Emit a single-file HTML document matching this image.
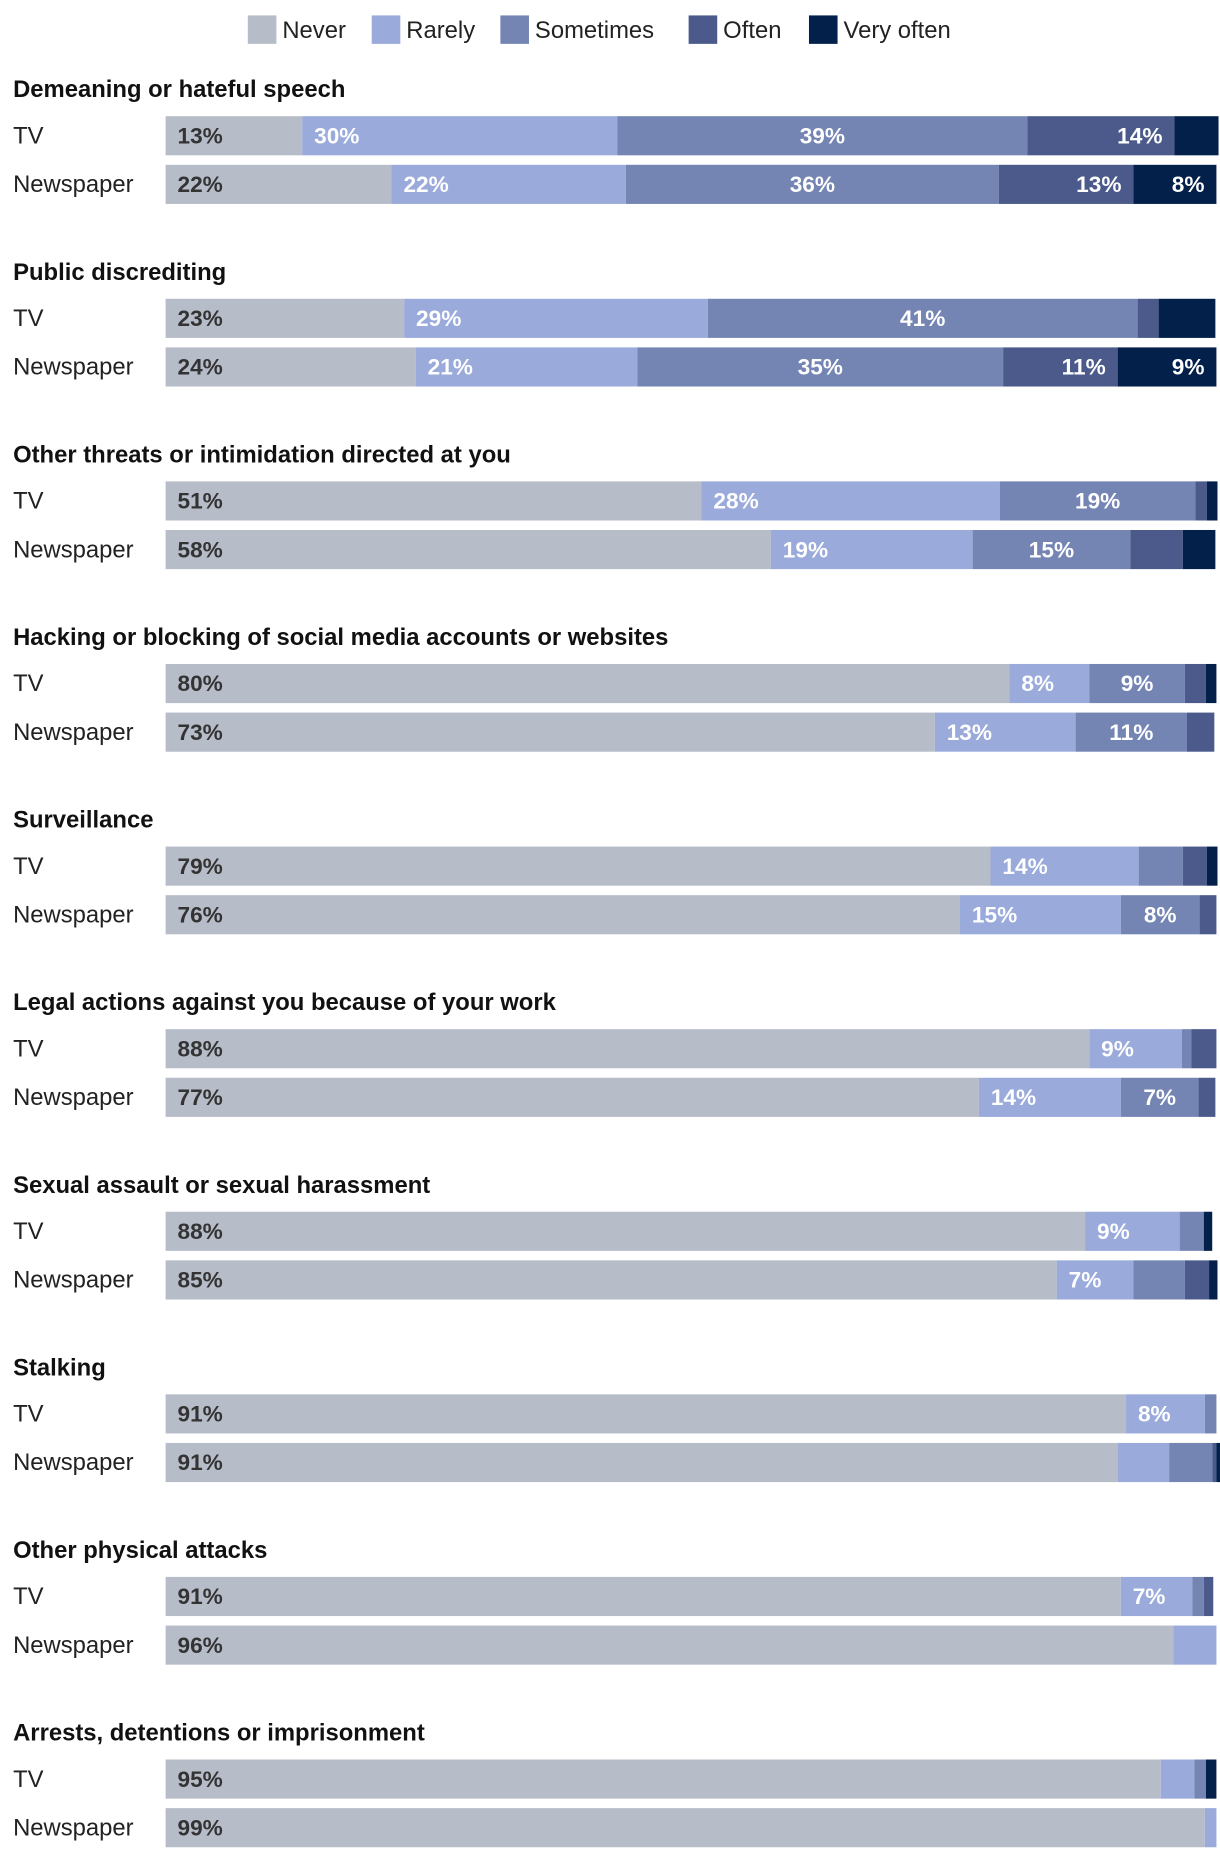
<!DOCTYPE html>
<html><head><meta charset="utf-8"><style>
html,body{margin:0;padding:0;background:#fff}
svg{display:block}
text{font-family:"Liberation Sans",sans-serif}
</style></head><body>
<svg id="chart" width="1220" height="1852" viewBox="0 0 1024 1562" preserveAspectRatio="none" xmlns="http://www.w3.org/2000/svg">
<g id="legend"></g>
<g id="bars"></g>
</svg>
<script>
const categories = ["Demeaning or hateful speech","Public discrediting","Other threats or intimidation directed at you","Hacking or blocking of social media accounts or websites","Surveillance","Legal actions against you because of your work","Sexual assault or sexual harassment","Stalking","Other physical attacks","Arrests, detentions or imprisonment"];
const outlets = ["TV","Newspaper"];
const levels = ["Never","Rarely","Sometimes","Often","Very often"];
const tvValues = [[13,30,39,14,4.2],[22.7,28.9,40.9,2.0,5.4],[51,28.4,18.6,1.1,1.0],[80.3,7.6,9.1,2.0,1.0],[78.5,14.1,4.2,2.3,1.0],[87.9,8.8,0.9,2.4,0],[87.5,9,2.3,0,0.8],[91.4,7.5,1.1,0,0],[90.9,6.8,1.1,0.9,0],[94.7,3.2,1.1,0,1.0]];
const newspaperValues = [[21.5,22.3,35.5,12.8,7.9],[23.8,21.1,34.8,10.9,9.4],[57.6,19.2,15,5,3.1],[73.2,13.4,10.6,2.6,0],[75.6,15.3,7.5,1.6,0],[77.4,13.5,7.4,1.6,0],[84.8,7.3,4.9,2.3,0.8],[90.6,4.9,4.1,0.4,0.4],[95.9,4.1,0,0,0],[98.9,1.1,0,0,0]];

const colors = ["#b6bcc8","#99aadb","#7485b4","#4b5a8a","#03204a"];
const NS = "http://www.w3.org/2000/svg";
const X0 = 139, X1 = 1021;
const x = v => X0 + (X1 - X0) * v / 100;
function mk(tag, attrs, parent){const e=document.createElementNS(NS,tag);for(const k in attrs)e.setAttribute(k,attrs[k]);parent.appendChild(e);return e;}

const lg = document.getElementById("legend");
const legX = [208,312,420,578,679];
levels.forEach((l,i)=>{
  const g = mk("g",{},lg);
  
  
  mk("rect",{x:legX[i],y:13,width:24,height:24,fill:colors[i]},g);
  const t = mk("text",{x:legX[i]+29,y:32,"font-size":20,fill:"#222"},g);
  t.textContent = l;
});

const bg = document.getElementById("bars");
categories.forEach((c,k)=>{
  const base = 154*k;
  const g = mk("g",{},bg);
  
  
  const tt = mk("text",{x:11,y:82+base,"font-size":20,"font-weight":"bold",fill:"#111"},g);
  
  
  tt.textContent = c;
  [tvValues[k],newspaperValues[k]].forEach((vals,r)=>{
    const y = 98 + base + r*41;
    const lab = mk("text",{x:11,y:y+23,"font-size":20,fill:"#222"},g);
    
    
    lab.textContent = outlets[r];
    let cum = 0;
    vals.forEach((v,i)=>{
      if(v<=0) return;
      const xa = x(cum), xb = x(cum+v);
      cum += v;
      const rect = mk("rect",{x:xa,y:y,width:xb-xa,height:33,fill:colors[i]},g);
      
      
      if(v>=6.5){
        let tx, anchor;
        if(i<=1){tx=xa+10;anchor="start";}
        else if(i==2){tx=(xa+xb)/2;anchor="middle";}
        else {tx=xb-10;anchor="end";}
        const t = mk("text",{x:tx,y:y+23,"font-size":19,"font-weight":"bold","text-anchor":anchor,fill:i==0?"#333":"#fff"},g);
        
        
        t.textContent = Math.round(v)+"%";
      }
    });
  });
});
</script>
</body></html>
